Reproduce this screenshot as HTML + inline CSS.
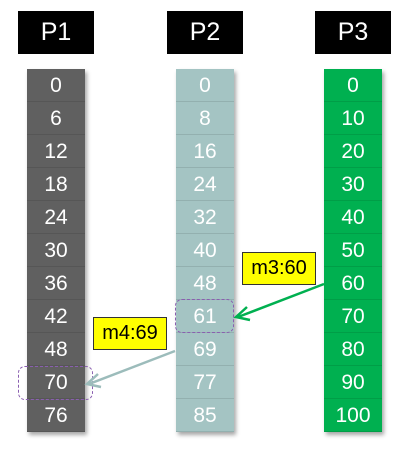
<!DOCTYPE html>
<html><head><meta charset="utf-8"><style>
body{margin:0;width:407px;height:452px;background:#fff;font-family:"Liberation Sans",Arial,sans-serif;position:relative;overflow:hidden}
.h{position:absolute;top:11px;width:76px;height:43px;background:#000;color:#fff;font-size:25px;line-height:43px;text-align:center}
.col{position:absolute;top:69px;width:58px;box-shadow:2px 3px 4px rgba(0,0,0,.35)}
.cell{height:33px;line-height:33px;text-align:center;color:#fff;font-size:21px;border-bottom:1px solid rgba(0,0,0,.1);box-sizing:border-box}
.lbl{position:absolute;width:72px;height:31px;background:#ff0;border:1px solid #333;font-size:20px;line-height:31px;text-align:center;color:#000}
.dash{position:absolute;border:1.5px dashed #8a5fb0;border-radius:7px}
</style></head><body>
<div class="h" style="left:18px">P1</div>
<div class="h" style="left:167px">P2</div>
<div class="h" style="left:315px">P3</div>
<div class="col" id="c1" style="left:27px;background:#606060"></div>
<div class="col" id="c2" style="left:176px;background:#a4c4c3"></div>
<div class="col" id="c3" style="left:324px;background:#00b050"></div>
<div class="dash" style="left:175px;top:299px;width:57px;height:32px"></div>
<div class="dash" style="left:18px;top:366px;width:73px;height:32px"></div>
<svg width="407" height="452" style="position:absolute;left:0;top:0">
<g><line x1="324" y1="284" x2="238" y2="317" stroke="#00b050" stroke-width="2.5"/><polyline points="247,307 236,317 250,320" fill="none" stroke="#00b050" stroke-width="2.5"/></g>
<g><line x1="175" y1="351" x2="89" y2="384" stroke="#9cbcbb" stroke-width="2.5"/><polyline points="98,374 87,384 101,387" fill="none" stroke="#9cbcbb" stroke-width="2.5"/></g>
</svg>
<div class="lbl" style="left:242px;top:252px">m3:60</div>
<div class="lbl" style="left:93px;top:317px">m4:69</div>
<script>
const p1Values=[0,6,12,18,24,30,36,42,48,70,76];
const p2Values=[0,8,16,24,32,40,48,61,69,77,85];
const p3Values=[0,10,20,30,40,50,60,70,80,90,100];
function fill(id,vals,name){const c=document.getElementById(id);vals.forEach(v=>{const d=document.createElement('div');d.className='cell';d.textContent=v;


c.appendChild(d);});}
fill('c1',p1Values,'p1');fill('c2',p2Values,'p2');fill('c3',p3Values,'p3');
</script>
</body></html>
